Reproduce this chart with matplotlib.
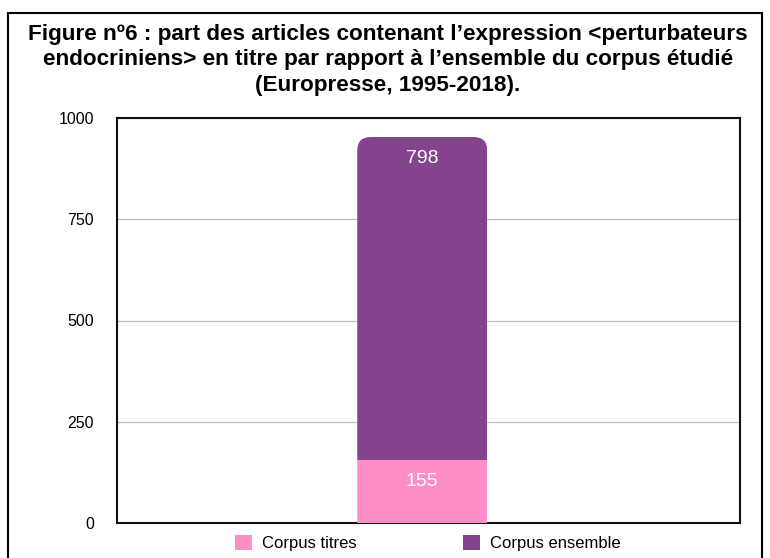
import matplotlib.pyplot as plt
from matplotlib.patches import FancyBboxPatch, Rectangle
import numpy as np

# data
categories = ['Corpus']
titres = np.array([155])
ensemble = np.array([798])
series_names = ['Corpus titres', 'Corpus ensemble']
colors = ['#FF8EC6', '#84428F']
yticks = [0, 250, 500, 750, 1000]

plt.rcParams['font.family'] = ['Liberation Sans', 'DejaVu Sans']

fig = plt.figure(figsize=(7.7, 5.58), dpi=100)
W, H = 770, 558
ax = fig.add_axes([117 / W, 1 - 523 / H, 623 / W, 405 / H])

# frame around the whole figure
fig.patches.append(Rectangle((8 / W, -0.05), 754 / W, 1.05 - 13 / H,
                             transform=fig.transFigure, fill=False,
                             edgecolor='black', linewidth=1.5))

x = np.arange(len(categories))
width = 0.626
b1 = ax.bar(x, titres, width, color=colors[0], label=series_names[0], zorder=3)
b2 = ax.bar(x, ensemble, width, bottom=titres, color=colors[1],
            label=series_names[1], zorder=3)

ax.set_xlim(-1.47, 1.53)
ax.set_ylim(0, 1000)

# rounded top corners of the stacked bar
total = titres + ensemble
r = 0.065
clip = FancyBboxPatch((x[0] - width / 2, -200), width, total[0] + 200,
                      boxstyle=f'round,pad=0,rounding_size={r}',
                      mutation_aspect=(1000 / 405) / (3.0 / 623),
                      transform=ax.transData, facecolor='none', edgecolor='none')
ax.add_patch(clip)
for bars in (b1, b2):
    for p in bars:
        p.set_clip_path(clip)

# value labels
for xi, v, bot in zip(x, titres, np.zeros_like(titres)):
    ax.text(xi, bot + v - 52, str(v), ha='center', va='center',
            color='white', fontsize=14)
for xi, v, bot in zip(x, ensemble, titres):
    ax.text(xi, bot + v - 52, str(v), ha='center', va='center',
            color='white', fontsize=14)

ax.set_yticks(yticks)
ax.set_yticklabels([str(t) for t in yticks], fontsize=11.5)
ax.tick_params(axis='y', length=0, pad=16.5)
ax.set_xticks([])
ax.yaxis.grid(True, color='#BBBBBB', linewidth=0.9, zorder=0)
for s in ax.spines.values():
    s.set_linewidth(1.5)
    s.set_color('#111111')

fig.legend(handles=[b1, b2], labels=series_names, loc='center',
           bbox_to_anchor=(428 / W, 1 - 543 / H), ncol=2, frameon=False,
           fontsize=12, handlelength=1.0, handleheight=1.0,
           columnspacing=6.4, handletextpad=0.6)

fig.text(0.5 + 3 / W, 1 - 60 / H,
         'Figure nº6 : part des articles contenant l\u2019expression <perturbateurs\n'
         'endocriniens> en titre par rapport à l\u2019ensemble du corpus étudié\n'
         '(Europresse, 1995-2018).',
         ha='center', va='center', fontsize=16.2, fontweight='bold',
         linespacing=1.3)

fig.savefig('out.png', dpi=100)
